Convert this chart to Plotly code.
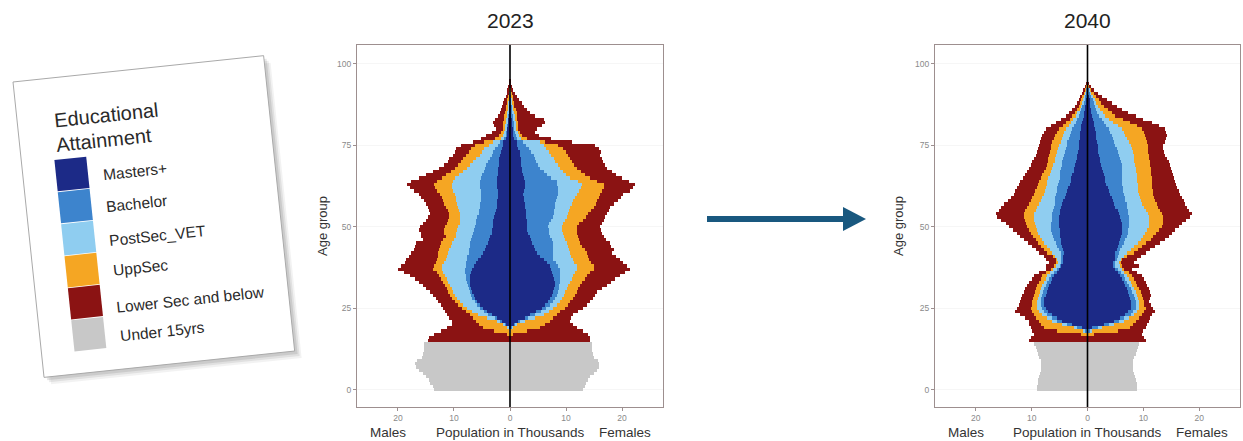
import math
import plotly.graph_objects as go

W, H = 1243, 441

# ages 15..95 carry education levels, 0..14 are the under-15 group
ages_adult = list(range(15, 96))
ages_child = list(range(0, 15))

categories = ["Masters+", "Bachelor", "PostSec_VET", "UppSec", "Lower Sec and below", "Under 15yrs"]
colors = ["#1c2a87", "#3d84cd", "#8fcdf0", "#f5a623", "#8b1313", "#c8c8c8"]

# Values in thousands, read off the picture as the outer edge of each
# colour band (cumulative from the centre line), ages 15..95.
# ---- 2023, males
m23_mast = [0, 0, 0, 0.05, 0.3, 0.8, 1.5, 2.4, 3.3, 4.1,
            4.8, 5.4, 6.0, 6.4, 6.6, 6.8, 7.0, 7.1, 7.1, 7.1,
            7.1, 6.9, 6.7, 6.5, 6.1, 5.7, 5.2, 4.8, 4.5, 4.2,
            3.9, 3.7, 3.5, 3.3, 3.2, 3.0, 3.0, 3.0, 2.8, 2.6,
            2.5, 2.4, 2.3, 2.3, 2.2, 2.1, 2.2, 2.3, 2.4, 2.4,
            2.3, 2.2, 2.2, 2.1, 2.0, 1.9, 1.9, 1.8, 1.6, 1.5,
            1.3, 1.2, 0.8, 0.7, 0.6, 0.6, 0.5, 0.4, 0.4, 0.3,
            0.2, 0.2, 0.2, 0.1, 0.1, 0.1, 0.05, 0.05, 0.02, 0,
            0]
m23_bach = [0, 0, 0, 0.1, 0.3, 0.9, 1.8, 2.7, 3.9, 4.7,
            5.4, 5.9, 6.3, 6.7, 6.9, 7.1, 7.3, 7.5, 7.7, 7.8,
            7.9, 8.0, 8.0, 7.9, 7.8, 7.7, 7.6, 7.4, 7.3, 7.2,
            7.1, 6.9, 6.7, 6.6, 6.4, 6.3, 6.1, 6.0, 5.8, 5.6,
            5.5, 5.4, 5.3, 5.2, 5.2, 5.1, 5.2, 5.3, 5.4, 5.4,
            5.2, 5.0, 4.7, 4.5, 4.2, 3.9, 3.6, 3.3, 3.0, 2.7,
            2.2, 1.8, 1.0, 0.8, 0.7, 0.6, 0.6, 0.5, 0.5, 0.4,
            0.3, 0.3, 0.3, 0.2, 0.2, 0.2, 0.1, 0.1, 0.03, 0.01,
            0]
m23_post = [0, 0, 0, 0.2, 0.5, 1.2, 2.4, 4.1, 5.7, 6.8,
            7.7, 8.4, 8.9, 9.4, 9.8, 10.1, 10.4, 10.7, 11.0, 11.3,
            11.6, 11.9, 12.2, 12.2, 11.8, 11.5, 11.2, 11.0, 10.8, 10.6,
            10.4, 10.0, 9.7, 9.6, 9.4, 9.2, 9.0, 8.9, 8.9, 9.0,
            9.1, 9.2, 9.4, 9.6, 9.7, 9.8, 10.1, 10.3, 10.4, 10.2,
            9.8, 9.1, 8.4, 7.7, 7.1, 6.6, 6.0, 5.4, 5.0, 4.6,
            3.8, 3.0, 1.6, 1.3, 1.1, 0.9, 0.9, 0.8, 0.8, 0.7,
            0.6, 0.5, 0.5, 0.4, 0.3, 0.3, 0.2, 0.1, 0.05, 0.02,
            0.01]
m23_upp = [0, 0, 0.6, 2.8, 4.8, 5.6, 6.0, 6.6, 7.1, 7.9,
           8.6, 9.2, 9.8, 10.3, 10.7, 11.0, 11.3, 11.6, 12.0, 12.3,
           12.6, 13.1, 13.8, 13.6, 13.2, 13.0, 12.9, 12.8, 12.6, 12.5,
           12.4, 11.9, 11.5, 11.7, 11.8, 11.6, 11.3, 11.0, 10.9, 10.8,
           11.0, 11.4, 11.7, 12.0, 12.2, 12.5, 13.0, 13.4, 13.6, 13.0,
           12.2, 11.4, 10.6, 9.8, 9.2, 8.7, 8.3, 7.8, 7.4, 7.0,
           6.2, 4.6, 2.6, 2.0, 1.6, 1.3, 1.2, 1.2, 1.1, 1.0,
           0.9, 0.8, 0.7, 0.6, 0.5, 0.4, 0.3, 0.2, 0.1, 0.05,
           0.02]
m23_total = [14.6, 14.4, 13.6, 12.4, 11.2, 10.3, 10.4, 10.8, 11.2, 11.6,
             12.0, 12.4, 12.8, 13.2, 13.8, 14.3, 14.9, 15.5, 16.3, 17.0,
             17.9, 18.9, 19.9, 19.4, 18.8, 18.5, 18.0, 17.6, 17.2, 16.9,
             16.7, 15.6, 15.9, 15.8, 16.2, 16.1, 15.5, 15.0, 14.6, 14.2,
             14.4, 14.7, 15.0, 15.4, 15.8, 16.3, 17.2, 17.9, 18.3, 17.6,
             16.2, 15.0, 13.8, 12.6, 11.8, 11.0, 10.8, 10.2, 9.9, 9.6,
             8.8, 6.6, 5.2, 4.2, 3.2, 2.5, 2.8, 3.1, 2.6, 2.2,
             1.8, 1.6, 1.4, 1.2, 1.0, 0.8, 0.6, 0.4, 0.2, 0.1,
             0.05]
m23_u15 = [13.5, 13.8, 14.2, 14.5, 15.0, 15.6, 16.3, 16.8, 16.9, 16.6,
           15.7, 15.5, 15.4, 15.3, 15.4]

# ---- 2023, females
f23_mast = [0, 0, 0, 0.05, 0.3, 0.8, 1.5, 2.6, 3.6, 4.7,
            5.7, 6.3, 6.8, 7.2, 7.5, 7.7, 7.9, 8.0, 8.0, 7.9,
            7.7, 7.5, 7.3, 7.1, 6.6, 6.0, 5.4, 4.8, 4.5, 4.2,
            3.9, 3.7, 3.5, 3.3, 3.1, 3.0, 3.0, 3.0, 2.9, 2.8,
            2.8, 2.7, 2.6, 2.5, 2.5, 2.4, 2.5, 2.6, 2.7, 2.7,
            2.5, 2.3, 2.2, 2.1, 2.0, 1.9, 1.9, 1.8, 1.7, 1.5,
            1.3, 1.2, 0.8, 0.7, 0.6, 0.6, 0.5, 0.5, 0.4, 0.3,
            0.2, 0.2, 0.2, 0.1, 0.1, 0.1, 0.05, 0.05, 0.02, 0,
            0]
f23_bach = [0, 0, 0, 0.1, 0.4, 1.0, 1.8, 3.2, 4.5, 5.6,
            6.5, 7.1, 7.7, 8.1, 8.4, 8.6, 8.7, 8.8, 8.9, 8.9,
            8.9, 8.9, 8.9, 8.6, 8.2, 7.7, 7.6, 7.6, 7.7, 7.7,
            7.7, 7.5, 7.2, 7.0, 6.9, 6.8, 7.0, 7.4, 7.6, 7.8,
            7.9, 8.0, 8.1, 8.2, 8.4, 8.6, 8.6, 8.5, 8.4, 8.3,
            7.4, 6.6, 6.0, 5.4, 5.0, 4.7, 4.5, 4.2, 3.8, 3.4,
            2.9, 2.4, 1.2, 1.0, 0.9, 0.8, 0.8, 0.7, 0.7, 0.6,
            0.5, 0.4, 0.4, 0.3, 0.3, 0.2, 0.15, 0.1, 0.03, 0.01,
            0]
f23_post = [0, 0, 0, 0.2, 0.6, 1.3, 2.7, 4.4, 6.0, 6.9,
            7.7, 8.3, 8.9, 9.3, 9.6, 9.8, 10.1, 10.4, 10.7, 11.0,
            11.3, 11.6, 11.9, 11.9, 11.5, 11.2, 10.9, 10.7, 10.5, 10.3,
            10.1, 9.9, 9.6, 9.4, 9.3, 9.2, 9.4, 9.8, 10.1, 10.4,
            10.6, 10.7, 11.0, 11.3, 11.6, 11.9, 12.3, 12.6, 12.8, 12.1,
            10.7, 10.0, 9.4, 8.9, 8.5, 8.1, 7.8, 7.4, 7.0, 6.5,
            6.0, 5.4, 2.0, 1.6, 1.4, 1.2, 1.2, 1.1, 1.0, 0.9,
            0.8, 0.7, 0.6, 0.5, 0.4, 0.3, 0.2, 0.15, 0.05, 0.02,
            0.01]
f23_upp = [0, 0, 0.6, 3.0, 5.4, 6.3, 7.1, 7.7, 8.3, 9.0,
           9.8, 10.3, 10.7, 11.2, 11.6, 11.9, 12.2, 12.5, 12.9, 13.3,
           13.7, 14.3, 14.9, 14.9, 14.4, 14.1, 13.9, 13.7, 13.3, 12.9,
           12.5, 12.3, 12.1, 12.0, 11.9, 11.9, 12.3, 13.1, 13.6, 14.0,
           14.4, 14.9, 15.3, 15.6, 15.9, 16.1, 16.5, 16.7, 16.7, 15.6,
           14.3, 13.4, 12.6, 11.9, 11.4, 11.0, 10.7, 10.4, 10.0, 9.4,
           8.5, 6.3, 3.0, 2.2, 1.8, 1.5, 1.5, 1.4, 1.3, 1.2,
           1.2, 1.0, 0.8, 0.7, 0.6, 0.5, 0.4, 0.3, 0.1, 0.05,
           0.02]
f23_total = [14.3, 14.3, 14.0, 13.1, 11.9, 11.3, 10.7, 10.9, 11.3, 12.2,
             13.1, 13.7, 14.3, 14.8, 15.2, 15.5, 16.4, 17.3, 18.0, 18.8,
             19.6, 20.6, 21.4, 20.8, 20.1, 19.6, 18.9, 18.2, 18.6, 18.0,
             17.9, 17.2, 16.7, 16.4, 16.3, 16.1, 16.5, 16.7, 17.0, 17.3,
             17.6, 17.9, 18.6, 19.3, 19.8, 20.2, 21.4, 22.0, 22.3, 21.2,
             20.0, 19.0, 18.2, 17.3, 17.0, 16.6, 16.4, 16.1, 16.3, 15.9,
             15.2, 11.0, 7.3, 5.2, 4.4, 4.8, 5.7, 6.3, 6.0, 4.4,
             3.6, 3.0, 2.5, 2.1, 1.6, 1.2, 0.9, 0.6, 0.3, 0.15,
             0.05]
f23_u15 = [13.0, 13.3, 13.6, 13.9, 14.3, 14.9, 15.5, 15.8, 15.9, 15.7,
           14.9, 14.8, 14.7, 14.6, 14.7]

# ---- 2040, males
m40_mast = [0, 0, 0, 0.2, 1.0, 2.7, 4.5, 5.5, 6.3, 7.0,
            7.5, 7.7, 7.8, 7.7, 7.5, 7.3, 7.1, 6.9, 6.6, 6.3,
            6.0, 5.5, 5.1, 4.8, 4.5, 4.5, 4.3, 4.2, 4.4, 4.6,
            4.7, 4.8, 4.9, 5.0, 5.0, 5.1, 5.1, 5.1, 5.1, 5.0,
            4.9, 4.8, 4.6, 4.4, 4.1, 3.9, 3.7, 3.5, 3.2, 3.0,
            2.9, 2.7, 2.5, 2.4, 2.3, 2.1, 1.9, 1.8, 1.7, 1.6,
            1.6, 1.5, 1.4, 1.4, 1.3, 1.25, 1.1, 0.9, 0.8, 0.65,
            0.6, 0.5, 0.4, 0.35, 0.3, 0.25, 0.2, 0.1, 0.05, 0.02,
            0]
m40_bach = [0, 0, 0, 0.5, 1.8, 3.6, 5.4, 6.4, 7.2, 7.8,
            8.1, 8.3, 8.4, 8.3, 8.1, 7.9, 7.7, 7.5, 7.2, 6.9,
            6.6, 6.0, 5.5, 5.0, 4.8, 4.8, 4.8, 4.8, 5.1, 5.4,
            5.7, 6.0, 6.2, 6.4, 6.5, 6.6, 6.5, 6.4, 6.3, 6.3,
            6.1, 6.0, 5.9, 5.8, 5.8, 5.7, 5.5, 5.4, 5.2, 5.1,
            5.0, 4.9, 4.9, 4.8, 4.6, 4.5, 4.3, 4.2, 4.0, 3.9,
            3.7, 3.6, 3.4, 3.2, 2.9, 2.7, 2.4, 2.1, 1.8, 1.5,
            1.3, 1.2, 1.0, 0.8, 0.6, 0.5, 0.4, 0.3, 0.15, 0.05,
            0.01]
m40_post = [0, 0, 0, 0.8, 2.4, 4.5, 6.3, 7.3, 8.1, 8.7,
            9.0, 9.1, 9.0, 8.9, 8.7, 8.5, 8.3, 8.1, 7.8, 7.5,
            7.2, 6.7, 6.2, 5.7, 5.4, 5.5, 5.9, 6.3, 6.7, 7.2,
            7.7, 8.1, 8.5, 8.8, 9.1, 9.3, 9.4, 9.5, 9.6, 9.6,
            9.3, 9.0, 8.7, 8.4, 8.1, 7.8, 7.6, 7.5, 7.3, 7.2,
            7.0, 6.8, 6.5, 6.3, 6.1, 5.9, 5.8, 5.7, 5.5, 5.3,
            5.1, 4.8, 4.6, 4.4, 4.2, 3.9, 3.4, 3.0, 2.6, 2.1,
            1.8, 1.5, 1.3, 1.1, 0.9, 0.8, 0.6, 0.4, 0.2, 0.08,
            0.02]
m40_upp = [0, 0, 1.2, 5.5, 7.8, 8.4, 8.7, 9.2, 9.6, 10.0,
           10.2, 10.0, 9.9, 9.8, 9.6, 9.4, 9.2, 9.0, 8.7, 8.4,
           8.1, 7.4, 6.5, 6.0, 5.6, 5.7, 6.2, 7.2, 7.7, 8.3,
           8.8, 9.3, 9.7, 10.1, 10.5, 10.8, 11.0, 11.2, 11.4, 11.4,
           11.1, 10.8, 10.5, 10.2, 9.9, 9.6, 9.4, 9.1, 8.9, 8.7,
           8.4, 8.1, 7.8, 7.5, 7.3, 7.1, 7.0, 6.9, 6.8, 6.6,
           6.5, 6.3, 6.0, 5.8, 5.5, 5.1, 4.4, 3.8, 3.2, 2.7,
           2.3, 1.8, 1.6, 1.4, 1.2, 1.0, 0.8, 0.5, 0.3, 0.1,
           0.03]
m40_total = [10.5, 10.2, 9.6, 9.9, 10.2, 10.4, 10.5, 11.2, 12.0, 12.9,
             12.6, 12.3, 12.0, 11.9, 11.7, 11.4, 11.1, 10.8, 10.5, 10.0,
             9.6, 8.7, 7.5, 7.5, 6.9, 7.5, 7.8, 8.7, 9.3, 9.9,
             10.6, 11.4, 12.0, 12.6, 13.3, 14.0, 14.6, 15.4, 16.2, 16.4,
             15.9, 15.5, 14.9, 14.3, 13.7, 13.2, 12.9, 12.6, 12.3, 12.0,
             11.6, 11.2, 10.8, 10.5, 10.2, 9.9, 9.6, 9.3, 9.0, 8.8,
             8.7, 8.5, 8.3, 8.1, 7.8, 7.5, 6.6, 5.7, 4.8, 3.9,
             3.3, 2.7, 2.2, 1.8, 1.5, 1.25, 0.95, 0.65, 0.4, 0.15,
             0.05]
m40_u15 = [9.0, 9.0, 8.9, 8.8, 8.6, 8.5, 8.4, 8.3, 8.3, 8.4,
           8.6, 8.8, 9.0, 9.3, 9.5]

# ---- 2040, females
f40_mast = [0, 0, 0, 0.2, 0.8, 2.9, 4.7, 5.8, 6.8, 7.3,
            7.7, 7.7, 7.7, 7.6, 7.4, 7.2, 7.0, 6.8, 6.5, 6.2,
            5.9, 5.4, 5.0, 4.7, 4.7, 5.0, 5.0, 5.0, 5.2, 5.5,
            5.7, 5.9, 6.0, 6.1, 6.2, 6.2, 6.1, 6.0, 5.9, 5.7,
            5.4, 5.0, 4.8, 4.6, 4.3, 4.1, 3.8, 3.6, 3.4, 3.2,
            3.1, 2.9, 2.7, 2.6, 2.5, 2.3, 2.2, 2.0, 1.9, 1.8,
            1.8, 1.7, 1.6, 1.5, 1.5, 1.4, 1.2, 1.1, 0.95, 0.8,
            0.7, 0.6, 0.5, 0.45, 0.4, 0.3, 0.2, 0.1, 0.05, 0.02,
            0]
f40_bach = [0, 0, 0, 0.5, 1.8, 3.8, 5.6, 6.6, 7.7, 8.2,
            8.6, 8.7, 8.6, 8.5, 8.3, 8.0, 7.7, 7.4, 7.1, 6.8,
            6.5, 6.0, 5.5, 5.0, 5.0, 5.3, 5.4, 5.6, 5.9, 6.2,
            6.5, 6.8, 7.0, 7.2, 7.3, 7.4, 7.4, 7.4, 7.4, 7.3,
            7.2, 7.1, 7.0, 6.8, 6.7, 6.5, 6.4, 6.3, 6.2, 6.2,
            6.2, 6.2, 6.2, 6.2, 6.1, 6.0, 5.8, 5.6, 5.4, 5.2,
            5.0, 4.7, 4.5, 4.3, 4.0, 3.8, 3.4, 3.0, 2.6, 2.0,
            1.7, 1.5, 1.3, 1.1, 0.9, 0.7, 0.5, 0.3, 0.15, 0.05,
            0.01]
f40_post = [0, 0, 0, 0.8, 2.6, 4.7, 6.5, 7.4, 8.3, 8.8,
            9.2, 9.3, 9.2, 9.1, 8.9, 8.6, 8.3, 8.0, 7.7, 7.4,
            7.1, 6.6, 6.2, 5.9, 5.8, 6.0, 6.5, 7.1, 7.7, 8.3,
            9.0, 9.5, 9.9, 10.3, 10.7, 11.0, 11.0, 11.0, 11.0, 10.8,
            10.5, 10.1, 9.8, 9.6, 9.4, 9.2, 9.1, 9.0, 9.0, 8.9,
            8.9, 8.8, 8.7, 8.6, 8.5, 8.4, 8.4, 8.3, 8.1, 7.9,
            7.7, 7.4, 7.1, 6.8, 6.5, 6.2, 5.4, 4.6, 3.9, 3.2,
            2.7, 2.2, 1.9, 1.6, 1.3, 1.0, 0.7, 0.5, 0.25, 0.08,
            0.02]
f40_upp = [0, 0, 1.2, 5.5, 7.6, 8.2, 8.6, 9.2, 9.8, 10.2,
           10.4, 10.2, 10.1, 10.0, 9.8, 9.5, 9.2, 8.9, 8.6, 8.3,
           8.0, 7.4, 6.6, 6.2, 6.0, 6.2, 7.1, 8.3, 9.0, 9.7,
           10.5, 11.3, 11.8, 12.3, 12.8, 13.3, 13.5, 13.6, 13.6, 13.4,
           13.0, 12.7, 12.4, 12.1, 11.9, 11.8, 11.7, 11.6, 11.6, 11.5,
           11.5, 11.4, 11.4, 11.3, 11.2, 11.1, 11.0, 11.0, 10.9, 10.8,
           10.8, 10.7, 10.5, 10.3, 10.1, 9.8, 8.8, 7.6, 6.3, 5.0,
           4.3, 3.6, 3.0, 2.5, 2.0, 1.5, 1.1, 0.7, 0.35, 0.1,
           0.03]
f40_total = [10.4, 10.1, 9.8, 10.0, 10.4, 10.6, 11.0, 11.2, 11.5, 12.1,
             11.8, 11.3, 11.0, 11.2, 11.3, 11.2, 11.0, 10.7, 10.4, 10.1,
             9.8, 8.9, 8.0, 9.2, 8.3, 8.9, 9.5, 10.4, 11.2, 12.1,
             13.0, 13.9, 14.5, 15.1, 15.7, 16.3, 16.9, 17.6, 18.3, 18.7,
             18.2, 17.8, 17.5, 17.2, 16.9, 16.6, 16.3, 16.1, 15.9, 15.7,
             15.5, 15.3, 15.1, 14.9, 14.7, 14.5, 14.2, 13.9, 13.7, 13.6,
             13.6, 13.8, 14.0, 14.2, 14.1, 13.9, 12.8, 11.5, 10.0, 8.6,
             7.3, 6.2, 5.3, 4.4, 3.5, 2.6, 1.9, 1.1, 0.6, 0.2,
             0.05]
f40_u15 = [8.8, 8.9, 8.8, 8.7, 8.5, 8.3, 8.2, 8.1, 8.1, 8.2,
           8.4, 8.6, 8.8, 9.0, 9.2]

years = ["2023", "2040"]


def band_widths(edges):
    """Turn cumulative outer edges into the width of each band."""
    out, prev = [], [0.0] * len(edges[0])
    for e in edges:
        out.append([max(0.0, a - b) for a, b in zip(e, prev)])
        prev = e
    return out


def px2paper(px, py):
    return px / W, 1 - py / H


# ---- legend card geometry (card is tilted about 6 degrees)
CARD_X0, CARD_Y0 = 13, 82
CARD_W, CARD_H = 252, 297
TILT = math.radians(6)


def card_pt(u, v, dx=0.0, dy=0.0):
    c, s = math.cos(TILT), math.sin(TILT)
    return px2paper(CARD_X0 + u * c + v * s + dx, CARD_Y0 - u * s + v * c + dy)


def quad_path(u0, v0, u1, v1, dx=0.0, dy=0.0):
    pts = [card_pt(u0, v0, dx, dy), card_pt(u1, v0, dx, dy),
           card_pt(u1, v1, dx, dy), card_pt(u0, v1, dx, dy)]
    return "M " + " L ".join(f"{x:.5f},{y:.5f}" for x, y in pts) + " Z"


fig = go.Figure()

panels = [
    ("x", "y", [m23_mast, m23_bach, m23_post, m23_upp, m23_total], m23_u15,
     [f23_mast, f23_bach, f23_post, f23_upp, f23_total], f23_u15),
    ("x2", "y2", [m40_mast, m40_bach, m40_post, m40_upp, m40_total], m40_u15,
     [f40_mast, f40_bach, f40_post, f40_upp, f40_total], f40_u15),
]

for xa, ya, m_edges, m_u15, f_edges, f_u15 in panels:
    m_w = band_widths(m_edges)
    f_w = band_widths(f_edges)
    for k in range(5):
        fig.add_trace(go.Bar(y=ages_adult, x=[-v for v in m_w[k]], orientation="h",
                             marker=dict(color=colors[k], line=dict(width=0)),
                             name=categories[k], xaxis=xa, yaxis=ya, showlegend=False))
        fig.add_trace(go.Bar(y=ages_adult, x=f_w[k], orientation="h",
                             marker=dict(color=colors[k], line=dict(width=0)),
                             name=categories[k], xaxis=xa, yaxis=ya, showlegend=False))
    fig.add_trace(go.Bar(y=ages_child, x=[-v for v in m_u15], orientation="h",
                         marker=dict(color=colors[5], line=dict(width=0)),
                         name=categories[5], xaxis=xa, yaxis=ya, showlegend=False))
    fig.add_trace(go.Bar(y=ages_child, x=f_u15, orientation="h",
                         marker=dict(color=colors[5], line=dict(width=0)),
                         name=categories[5], xaxis=xa, yaxis=ya, showlegend=False))

axis_line = "#9d8f8f"
tick_font = dict(family="Liberation Sans, Arial", size=8.5, color="#8a8a8a")
ydom = [1 - 407 / H, 1 - 45 / H]
common_x = dict(range=[-27.3, 27.3], tickvals=[-20, -10, 0, 10, 20],
                ticktext=["20", "10", "0", "10", "20"], showline=True, mirror=True,
                linecolor=axis_line, linewidth=1, ticks="outside", ticklen=3,
                tickcolor=axis_line, tickfont=tick_font, showgrid=False,
                zeroline=False, fixedrange=True)
common_y = dict(range=[-5.3, 105.8], tickvals=[0, 25, 50, 75, 100], showline=True,
                mirror=True, linecolor=axis_line, linewidth=1, ticks="outside",
                ticklen=3, tickcolor=axis_line, tickfont=tick_font, showgrid=True,
                gridcolor="#f6f6f6", zeroline=False, domain=ydom, fixedrange=True)

panel_px = [(357, 663, 510), (935, 1240, 1087)]

fig.update_layout(
    width=W, height=H,
    margin=dict(l=0, r=0, t=0, b=0, pad=0),
    paper_bgcolor="white", plot_bgcolor="white",
    barmode="relative", bargap=0, showlegend=False,
    font=dict(family="Liberation Sans, Arial", color="#2b2b2b"),
    xaxis=dict(domain=[357 / W, 663 / W], anchor="y", **common_x),
    yaxis=dict(anchor="x", **common_y),
    xaxis2=dict(domain=[935 / W, 1240 / W], anchor="y2", **common_x),
    yaxis2=dict(anchor="x2", **common_y),
)

shapes = []
annotations = []


def label(text, px, py, size, angle=0, anchor="center", color="#333"):
    x, y = px2paper(px, py)
    return dict(text=text, x=x, y=y, xref="paper", yref="paper", showarrow=False,
                xanchor=anchor, yanchor="middle", textangle=angle,
                font=dict(size=size, color=color))


for (left, right, mid), year, xa, ya, age_x, males_x, fem_x in zip(
        panel_px, years, ["x", "x2"], ["y", "y2"], [322, 898], [388, 966], [625, 1202]):
    # centre line at zero
    shapes.append(dict(type="line", xref=xa, yref=f"{ya} domain", x0=0, x1=0, y0=0, y1=1,
                       line=dict(color="black", width=1.6), layer="above"))
    annotations.append(label(year, mid, 20, 21, color="#222"))
    annotations.append(label("Age group", age_x, 226, 13, angle=-90))
    for txt, cx in [("Males", males_x), ("Population in Thousands", mid), ("Females", fem_x)]:
        annotations.append(label(txt, cx, 432, 13.5))

# arrow between the two pyramids
ax0, ay0 = px2paper(707, 216)
ax1, ay1 = px2paper(846, 222)
shapes.append(dict(type="rect", xref="paper", yref="paper", x0=ax0, x1=ax1, y0=ay1, y1=ay0,
                   fillcolor="#19587f", line=dict(width=0)))
h1 = px2paper(843, 207)
h2 = px2paper(866, 219)
h3 = px2paper(843, 231)
shapes.append(dict(type="path", xref="paper", yref="paper",
                   path=f"M {h1[0]:.5f},{h1[1]:.5f} L {h2[0]:.5f},{h2[1]:.5f} "
                        f"L {h3[0]:.5f},{h3[1]:.5f} Z",
                   fillcolor="#19587f", line=dict(width=0)))

# tilted legend card with a soft shadow
for off, alpha in [(7, 0.05), (5, 0.07), (3, 0.09)]:
    shapes.append(dict(type="path", xref="paper", yref="paper",
                       path=quad_path(0, 0, CARD_W, CARD_H, off, off),
                       fillcolor=f"rgba(0,0,0,{alpha})", line=dict(width=0)))
shapes.append(dict(type="path", xref="paper", yref="paper",
                   path=quad_path(0, 0, CARD_W, CARD_H),
                   fillcolor="white", line=dict(color="#a9a9a9", width=1)))

for i, (cat, col) in enumerate(zip(categories, colors)):
    v0 = 82 + 32.2 * i
    shapes.append(dict(type="path", xref="paper", yref="paper",
                       path=quad_path(33, v0, 65, v0 + 31.4),
                       fillcolor=col, line=dict(width=0)))
    lx, ly = card_pt(77, v0 + 16)
    annotations.append(dict(text=cat, x=lx, y=ly, xref="paper", yref="paper",
                            xanchor="left", yanchor="middle", showarrow=False,
                            textangle=-6, font=dict(size=15.5, color="#2a2a2a")))

for line, v in [("Educational", 37), ("Attainment", 62)]:
    tx, ty = card_pt(34, v)
    annotations.append(dict(text=line, x=tx, y=ty, xref="paper", yref="paper",
                            xanchor="left", yanchor="middle", showarrow=False,
                            textangle=-6, font=dict(size=20, color="#2a2a2a")))

fig.update_layout(shapes=shapes, annotations=annotations)

fig.write_html("out.html", config={"displayModeBar": False},
               post_script="document.body.style.margin='0';")
